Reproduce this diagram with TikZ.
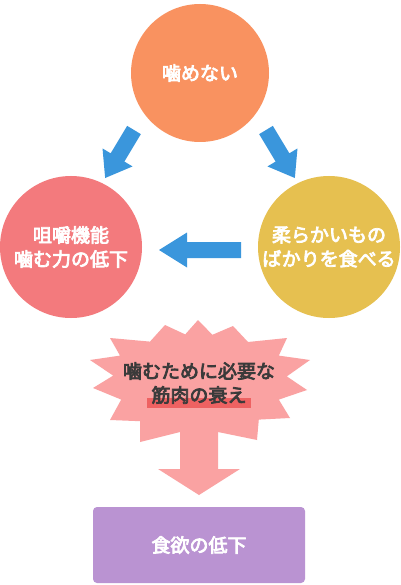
\documentclass[tikz,border=0pt]{standalone}
\usepackage{fontspec}
\setmainfont{Noto Sans CJK JP}[AutoFakeBold=4]
\definecolor{corange}{HTML}{F99260}
\definecolor{cpink}{HTML}{F37A7D}
\definecolor{cyellow}{HTML}{E6C050}
\definecolor{cblue}{HTML}{3A96DC}
\definecolor{cstar}{HTML}{FAA2A2}
\definecolor{cbar}{HTML}{EE6262}
\definecolor{cpurple}{HTML}{BA93D2}
\definecolor{ctext}{HTML}{3A3A3A}
\newcommand\fatarr[4]{%
  \fill[cblue, shift={(#1)}, rotate=#2]
    (0,-8) -- (#3-#4,-8) -- (#3-#4,-17.5) -- (#3,0) -- (#3-#4,17.5) -- (#3-#4,8) -- (0,8) -- cycle;}
\begin{document}
\begin{tikzpicture}[x=1pt,y=-1pt,
  every node/.style={font=\fontsize{19}{24}\selectfont\bfseries, align=center, inner sep=0pt},
  bubble/.style={circle, minimum size=#1, text=white},
]
\useasboundingbox (0,0) rectangle (400,585);
\fill[white] (0,0) rectangle (400,585);
% circles
\node[bubble=138pt, fill=corange] (top) at (200,73) {噛めない};
\node[bubble=142pt, fill=cpink] (left) at (71,247) {咀嚼機能\\噛む力の低下};
\node[bubble=142pt, fill=cyellow] (right) at (329,247) {柔らかいもの\\ばかりを食べる};
% fat arrows
\coordinate (a1) at (134,130);
\coordinate (a2) at (266,130);
\coordinate (a3) at (241,250);
\fatarr{a1}{-121}{56}{24}
\fatarr{a2}{-59}{56}{24}
\fatarr{a3}{180}{82}{28}
% burst with down arrow
\fill[cstar] (198,320) -- (212.4,334.8) -- (233,326) -- (248,342) -- (287,338) -- (278.8,355.6)
  -- (310,360) -- (286.8,376.4) -- (307,390) -- (278.8,399.6) -- (290,418) -- (258.8,419.6)
  -- (257,440) -- (218,432) -- (218,469) -- (240,469) -- (199,495) -- (158,469) -- (180,469)
  -- (180,432) -- (140,442) -- (140,421.2) -- (110,420) -- (121.2,399.6) -- (93,388)
  -- (113.2,375.6) -- (90,360) -- (120,355.6) -- (110,338) -- (150,341.6) -- (165,325)
  -- (185.2,334.4) -- cycle;
\fill[cbar] (147,398) rectangle (251,408);
\node[text=ctext] (burst) at (199,383) {噛むために必要な\\筋肉の衰え};
% bottom box
\node[fill=cpurple, rounded corners=4pt, minimum width=212pt, minimum height=76pt, text=white] (bottom) at (199,545) {食欲の低下};
\end{tikzpicture}
\end{document}
